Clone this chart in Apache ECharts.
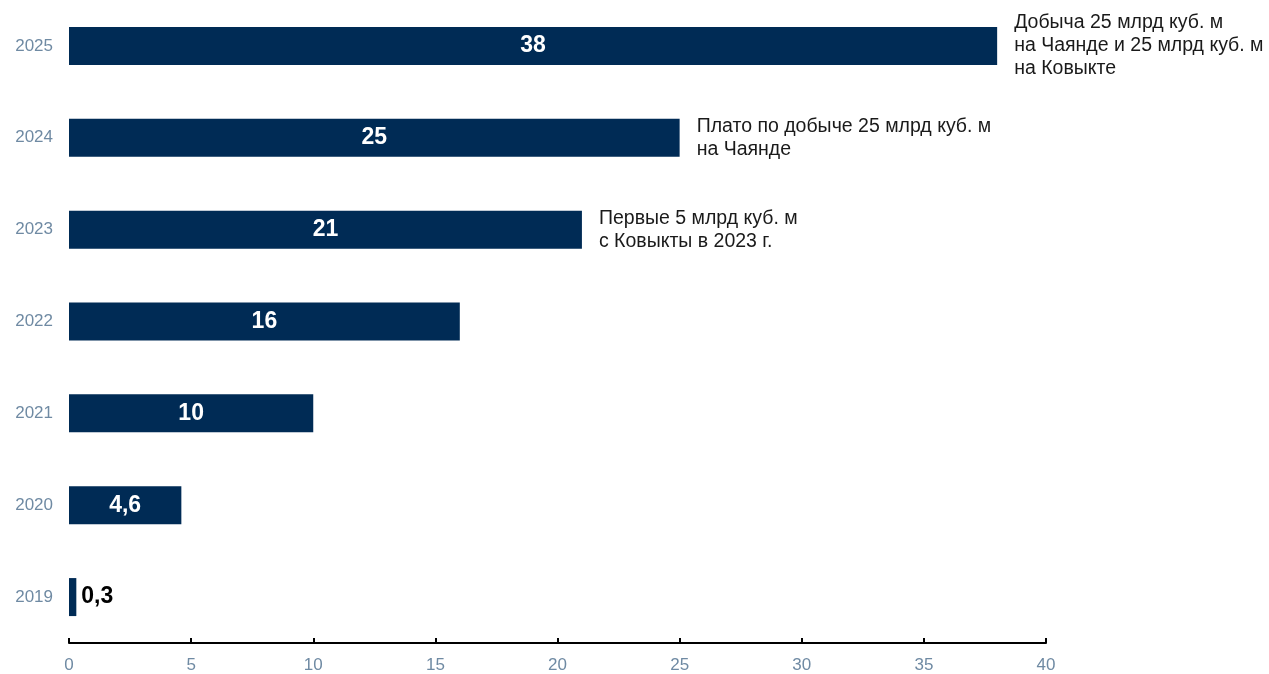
<!DOCTYPE html>
<html>
<head>
<meta charset="utf-8">
<style>
html,body{margin:0;padding:0;background:#fff;}
#chart{width:1269px;height:674px;}
</style>
<script src="https://cdn.jsdelivr.net/npm/echarts@6/dist/echarts.min.js"></script>
</head>
<body>
<div id="chart"></div>
<script>
const years = ['2019','2020','2021','2022','2023','2024','2025'];
const values = [0.3, 4.6, 10, 16, 21, 25, 38];
const notes = [
  '', '', '', '',
  'Первые 5 млрд куб. м\nс Ковыкты в 2023 г.',
  'Плато по добыче 25 млрд куб. м\nна Чаянде',
  'Добыча 25 млрд куб. м\nна Чаянде и 25 млрд куб. м\nна Ковыкте'
];
const xTicks = { min: 0, max: 40, interval: 5 };

const fmt = v => String(v).replace('.', ',');
const FONT = '"Liberation Sans", Arial, sans-serif';

const mainData = values.map((v, i) => {
  const small = v < 2;
  return {
    value: v,
    label: small ? {
      position: 'right', distance: 5, color: '#000'
    } : {
      position: 'inside', color: '#fff'
    }
  };
});

const chart = echarts.init(document.getElementById('chart'));
chart.setOption({
  animation: false,
  backgroundColor: '#fff',
  grid: { left: 69, right: 223, top: -1, bottom: 31, containLabel: false },
  xAxis: {
    type: 'value', min: xTicks.min, max: xTicks.max, interval: xTicks.interval,
    splitLine: { show: false },
    axisLine: { show: true, lineStyle: { color: '#000', width: 2 } },
    axisTick: { show: true, inside: true, length: 5, lineStyle: { color: '#000', width: 2 } },
    axisLabel: { color: '#6f8aa3', fontSize: 17, fontFamily: FONT, margin: 14,
      formatter: v => fmt(v) }
  },
  yAxis: {
    type: 'category', data: years,
    axisLine: { show: false }, axisTick: { show: false }, splitLine: { show: false },
    axisLabel: { color: '#6f8aa3', fontSize: 17, fontFamily: FONT, margin: 16 }
  },
  series: [
    {
      type: 'bar', data: mainData, barWidth: 38,
      itemStyle: { color: '#002b55' },
      label: { show: true, fontSize: 23, fontWeight: 'bold', fontFamily: FONT,
        formatter: p => fmt(p.value) },
      z: 2
    },
    {
      type: 'bar', data: values, barWidth: 38, barGap: '-100%',
      itemStyle: { color: 'rgba(0,0,0,0)' },
      label: { show: true, position: 'right', distance: 17, color: '#1a1a1a',
        fontSize: 19.5, lineHeight: 23, fontFamily: FONT, align: 'left',
        formatter: p => notes[p.dataIndex] },
      silent: true, z: 1
    }
  ]
});
</script>
</body>
</html>
